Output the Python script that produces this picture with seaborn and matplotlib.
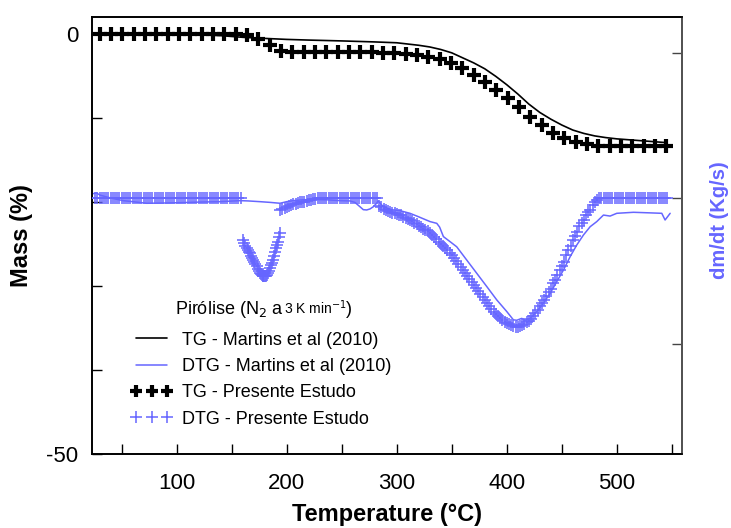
import numpy as np
import pandas as pd
import matplotlib
matplotlib.use("Agg")
import matplotlib.pyplot as plt
import seaborn as sns
from matplotlib.lines import Line2D
from matplotlib.offsetbox import TextArea, HPacker, AnchoredOffsetbox

# ---------------- data ----------------
# TG - Presente Estudo (markers)
tg_pe_T = [30.0, 40.3, 50.6, 60.9, 71.2, 81.5, 91.8, 102.1, 112.4, 122.7, 133.0, 143.3, 153.6,
           163.9, 174.2, 184.5, 194.8, 205.1, 215.4, 225.7, 236.0, 246.3, 256.6, 266.9, 277.2,
           287.5, 297.8, 308.1, 318.4, 328.7, 339.0, 349.3, 359.6, 369.9, 380.2, 390.5, 400.8,
           411.1, 421.4, 431.7, 442.0, 452.3, 462.6, 472.9, 483.2, 493.5, 503.8, 514.1, 524.4,
           534.7, 545.0]
tg_pe_m = [0.0, 0.0, 0.0, 0.0, 0.0, 0.0, 0.0, 0.0, 0.0, 0.0, 0.0, 0.0, 0.0,
           -0.1, -0.55, -1.3, -1.95, -2.05, -2.07, -2.08, -2.1, -2.1, -2.12, -2.13, -2.15,
           -2.18, -2.22, -2.3, -2.4, -2.65, -2.95, -3.4, -4.0, -4.8, -5.7, -6.65, -7.6,
           -8.7, -9.8, -10.8, -11.7, -12.4, -12.85, -13.1, -13.25, -13.3, -13.3, -13.3, -13.3,
           -13.3, -13.3]

# TG - Martins et al (2010) (line)
tg_m_T = [24, 60, 100, 120, 140, 160, 175, 200, 220, 250, 280, 300, 310, 320, 330, 340, 350,
          360, 370, 380, 390, 400, 410, 420, 430, 440, 450, 460, 470, 480, 490, 500, 515,
          530, 545]
tg_m_m = [0.0, 0.0, 0.0, -0.05, -0.15, -0.35, -0.45, -0.6, -0.68, -0.78, -0.9, -1.0, -1.15,
          -1.3, -1.5, -1.8, -2.2, -2.8, -3.4, -4.1, -5.0, -6.0, -7.1, -8.3, -9.3, -10.1,
          -10.8, -11.4, -11.8, -12.1, -12.3, -12.45, -12.6, -12.75, -12.9]

# DTG - Presente Estudo (markers), read in segments
dtg_a_T = [26, 28, 30, 32, 34, 36, 38, 40, 42, 44, 46, 48, 50, 52, 54, 56, 58, 60, 62, 64,
           66, 68, 70, 72, 74, 76, 78, 80, 82, 84, 86, 88, 90, 92, 94, 96, 98, 100, 102, 104,
           106, 108, 110, 112, 114, 116, 118, 120, 122, 124, 126, 128, 130, 132, 134, 136,
           138, 140, 142, 144, 146, 148, 150, 152, 154, 156, 158]
dtg_a_v = [0.0, 0.0, 0.0, 0.0, 0.0, 0.0, 0.0, 0.0, 0.0, 0.0,
           0.0, 0.0, 0.0, 0.0, 0.0, 0.0, 0.0, 0.0, 0.0, 0.0,
           0.0, 0.0, 0.0, 0.0, 0.0, 0.0, 0.0, 0.0, 0.0, 0.0,
           0.0, 0.0, 0.0, 0.0, 0.0, 0.0, 0.0, 0.0, 0.0, 0.0,
           0.0, 0.0, 0.0, 0.0, 0.0, 0.0, 0.0, 0.0, 0.0, 0.0,
           0.0, 0.0, 0.0, 0.0, 0.0, 0.0, 0.0, 0.0, 0.0, 0.0,
           0.0, 0.0, 0.0, 0.0, 0.0, 0.0, 0.0]
dtg_b_T = [160.6, 161.5, 162.5, 163.6, 164.5, 165.5, 166.6, 167.5, 168.5, 169.6, 170.5, 171.5,
           172.7, 173.5, 174.5, 175.7, 176.5, 177.3, 178.0, 178.8, 179.5, 180.3, 181.0, 181.8,
           182.8, 183.8, 184.8, 185.8, 186.8, 187.8, 188.6, 189.4, 190.4, 191.4, 192.4, 193.2,
           193.9]
dtg_b_v = [-0.289, -0.31, -0.33, -0.346, -0.36, -0.37, -0.38, -0.395, -0.41, -0.426, -0.44,
           -0.455, -0.47, -0.485, -0.50, -0.517, -0.525, -0.53, -0.535, -0.536, -0.536, -0.535,
           -0.533, -0.53, -0.515, -0.50, -0.48, -0.46, -0.445, -0.426, -0.40, -0.369, -0.345,
           -0.32, -0.30, -0.27, -0.238]
dtg_c_T = [194, 196, 198, 200, 202, 204, 206, 208, 210, 212, 214, 216, 218, 220, 222, 224, 226,
           228, 230, 232, 234, 236, 238, 240, 242, 244, 246, 248, 250, 252, 254, 256, 258, 260,
           262, 264, 266, 268, 270, 272, 274, 276, 278, 280, 282]
dtg_c_v = [-0.082, -0.075, -0.068, -0.06, -0.054, -0.048, -0.044, -0.04, -0.035, -0.03, -0.028,
           -0.025, -0.02, -0.015, -0.012, -0.008, -0.004,
           0.0, 0.0, 0.0, 0.0, 0.0, 0.0, 0.0, 0.0, 0.0, 0.0,
           0.0, 0.0, 0.0, 0.0, 0.0, 0.0, 0.0, 0.0, 0.0, 0.0,
           0.0, 0.0, 0.0, 0.0, 0.0, 0.0, 0.0, 0.0]
dtg_d_T = [284, 286, 288, 290, 292, 294, 296, 298, 300, 302, 304, 306, 308, 310, 312, 314, 316,
           318, 320, 322, 324, 326, 328, 330, 332, 334, 336, 338, 340, 342, 344, 346, 348, 350,
           352, 354, 356, 358, 360, 362, 364, 366, 368, 370, 372, 374, 376, 378, 380, 382, 384,
           386, 388, 390, 392, 394, 396, 398, 400, 402, 404, 406, 408, 410, 412, 414, 416, 418,
           420, 422, 424, 426, 428, 430, 432, 434, 436, 438, 440, 442, 444, 446, 448, 450, 452,
           454, 456, 458, 460, 462, 464, 466, 468, 470, 472, 474, 476, 478, 480, 482]
dtg_d_v = [-0.055, -0.065, -0.075, -0.083, -0.09, -0.094, -0.1, -0.105, -0.11, -0.115, -0.12,
           -0.128, -0.135, -0.143, -0.151, -0.16, -0.17, -0.18, -0.19, -0.199, -0.21, -0.22,
           -0.23, -0.24, -0.253, -0.267, -0.283, -0.3, -0.315, -0.33, -0.345, -0.36, -0.377,
           -0.393, -0.413, -0.433, -0.455, -0.475, -0.496, -0.517, -0.537, -0.558, -0.58, -0.6,
           -0.62, -0.64, -0.657, -0.68, -0.70, -0.72, -0.74, -0.76, -0.78, -0.797, -0.813,
           -0.827, -0.84, -0.853, -0.862, -0.869, -0.874, -0.88, -0.883, -0.883, -0.88, -0.875,
           -0.866, -0.855, -0.844, -0.83, -0.81, -0.792, -0.772, -0.745, -0.724, -0.70, -0.67,
           -0.648, -0.625, -0.585, -0.56, -0.532, -0.495, -0.47, -0.44, -0.39, -0.36, -0.33,
           -0.29, -0.262, -0.235, -0.195, -0.172, -0.148, -0.115, -0.097, -0.08, -0.05, -0.03,
           -0.012]
dtg_e_T = [484, 486, 488, 490, 492, 494, 496, 498, 500, 502, 504, 506, 508, 510, 512, 514, 516,
           518, 520, 522, 524, 526, 528, 530, 532, 534, 536, 538, 540, 542, 544, 546]
dtg_e_v = [0.0, 0.0, 0.0, 0.0, 0.0, 0.0, 0.0, 0.0, 0.0, 0.0,
           0.0, 0.0, 0.0, 0.0, 0.0, 0.0, 0.0, 0.0, 0.0, 0.0,
           0.0, 0.0, 0.0, 0.0, 0.0, 0.0, 0.0, 0.0, 0.0, 0.0,
           0.0, 0.0]

# DTG - Martins et al (2010) (line)
dtg_m_T = [24.2, 27, 30.3, 40, 51.5, 60, 72.7, 90, 103, 120, 139.4, 157.5, 165, 175.7, 185,
           193.9, 200, 206, 215, 224.2, 236, 248.5, 257.5, 262, 266.6, 269.6, 272.7, 275.7,
           278.7, 281.8, 283, 287.8, 295, 303, 312, 319.6, 330.3, 336.4, 339, 342.4, 348.5,
           354.5, 363.6, 372.7, 381.8, 390.9, 400, 406, 409.1, 413.6, 416.6, 421.2, 427.3,
           433.3, 439.4, 445.5, 451.5, 457.6, 463.6, 469.7, 475.8, 481.8, 487.9, 493.9, 500,
           515.2, 530.3, 540.9, 543.9, 548.5]
dtg_m_v = [0.03, 0.035, 0.02, 0.0, -0.018, -0.025, -0.036, -0.034, -0.032, -0.028, -0.025,
           -0.018, -0.02, -0.025, -0.03, -0.036, -0.025, -0.018, -0.012, -0.01, -0.012, -0.018,
           -0.02, -0.03, -0.06, -0.08, -0.082, -0.075, -0.06, -0.035, -0.02, -0.06, -0.08,
           -0.087, -0.105, -0.128, -0.162, -0.174, -0.2, -0.265, -0.3, -0.335, -0.426, -0.517,
           -0.608, -0.70, -0.78, -0.837, -0.84, -0.827, -0.84, -0.827, -0.78, -0.722, -0.655,
           -0.574, -0.495, -0.403, -0.323, -0.254, -0.197, -0.162, -0.117, -0.124, -0.105,
           -0.098, -0.102, -0.105, -0.151, -0.105]

x_major = [100, 200, 300, 400, 500]
x_minor = [50, 150, 250, 350, 450, 550]
y_major = [0, -50]
y_minor = [-10, -20, -30, -40]
y2_ticks = [1, 0, -1]

labels = ["TG - Martins et al (2010)", "DTG - Martins et al (2010)",
          "TG - Presente Estudo", "DTG - Presente Estudo"]

segs = [(dtg_a_T, dtg_a_v), (dtg_b_T, dtg_b_v), (dtg_c_T, dtg_c_v), (dtg_d_T, dtg_d_v),
        (dtg_e_T, dtg_e_v)]
for t, v in segs:
    assert len(t) == len(v), (len(t), len(v))
dtg_pe = pd.concat([pd.DataFrame({"T": t, "v": v}) for t, v in segs], ignore_index=True)

# ---------------- style ----------------
sns.set_theme(style="white")
plt.rcParams["font.family"] = ["Liberation Sans", "DejaVu Sans"]
plt.rcParams["axes.unicode_minus"] = False
plt.rcParams["text.color"] = "black"
plt.rcParams["axes.labelcolor"] = "black"
plt.rcParams["xtick.color"] = "black"
plt.rcParams["ytick.color"] = "black"
BLUE = "#6666ff"

fig = plt.figure(figsize=(7.31, 5.28), dpi=100)
ax = fig.add_axes([92.3 / 731, 1 - 454 / 528, (681.7 - 92.3) / 731, (454 - 17) / 528])
ax2 = ax.twinx()

# TG
sns.lineplot(x=tg_m_T, y=tg_m_m, ax=ax, color="black", lw=1.2, sort=False, estimator=None,
             legend=False)
sns.scatterplot(x=tg_pe_T, y=tg_pe_m, ax=ax, marker="+", s=90, linewidth=3.0,
                color="black", legend=False, zorder=5)
# DTG
sns.lineplot(x=dtg_m_T, y=dtg_m_v, ax=ax2, color=BLUE, lw=1.1, sort=False, estimator=None,
             legend=False)
sns.scatterplot(data=dtg_pe, x="T", y="v", ax=ax2, marker="+", s=70, linewidth=1.1,
                color=BLUE, legend=False, zorder=5)

ax.set_xlim(23.3, 559)
ax.set_ylim(-50, 2.07)
ax2.set_ylim(-1.759, 1.244)

ax.set_xticks(x_major)
ax.set_xticks(x_minor, minor=True)
ax.set_yticks(y_major)
ax.set_yticks(y_minor, minor=True)
ax2.set_yticks(y2_ticks)
ax2.set_yticklabels([])

ax.tick_params(axis="x", which="both", direction="in", length=7, width=1, labelsize=16,
               pad=14, bottom=True, top=False, colors="black")
ax.tick_params(axis="y", which="both", direction="in", length=7, width=1, labelsize=16,
               pad=10, left=True, right=False, colors="black")
ax2.tick_params(axis="y", which="both", direction="in", length=7, width=1, right=True,
                left=False, colors="#444444")

for a in (ax, ax2):
    for s in a.spines.values():
        s.set_color("black")
        s.set_linewidth(1.2)
ax2.spines["right"].set_color("#555555")
ax2.spines["right"].set_linewidth(1.4)

ax.set_xlabel("Temperature (°C)", fontsize=17, fontweight="bold", labelpad=6.5, color="black")
ax.set_ylabel("Mass (%)", fontsize=17, fontweight="bold", color="black")
ax.yaxis.set_label_coords(-0.1006, 0.5)
ax2.set_ylabel("dm/dt (Kg/s)", fontsize=14.5, fontweight="bold", color=BLUE, rotation=90)
ax2.yaxis.set_label_coords(1.048, 0.535)

# legend
handles = [
    Line2D([], [], color="black", lw=1.2),
    Line2D([], [], color=BLUE, lw=1.1),
    Line2D([], [], color="black", ls="none", marker="+", ms=9, mew=3.0),
    Line2D([], [], color=BLUE, ls="none", marker="+", ms=9, mew=1.1),
]
leg = ax.legend(handles, labels, loc="upper left", bbox_to_anchor=(0.0657, 0.280),
                frameon=False, fontsize=13, numpoints=3, handlelength=2.3,
                handletextpad=0.55, labelspacing=0.52, borderpad=0, borderaxespad=0,
                labelcolor="black")

ta1 = TextArea("Pirólise (N$_2$ a ", textprops=dict(fontsize=13, color="black"))
ta2 = TextArea("3 K min$^{-1}$", textprops=dict(fontsize=10, color="black"))
ta3 = TextArea(")", textprops=dict(fontsize=13, color="black"))
box = HPacker(children=[ta1, ta2, ta3], align="baseline", pad=0, sep=0)
anch = AnchoredOffsetbox(loc="center left", child=box, pad=0, borderpad=0, frameon=False,
                         bbox_to_anchor=(0.140, 0.332), bbox_transform=ax.transAxes)
ax.add_artist(anch)

fig.savefig("out.png", dpi=100)
